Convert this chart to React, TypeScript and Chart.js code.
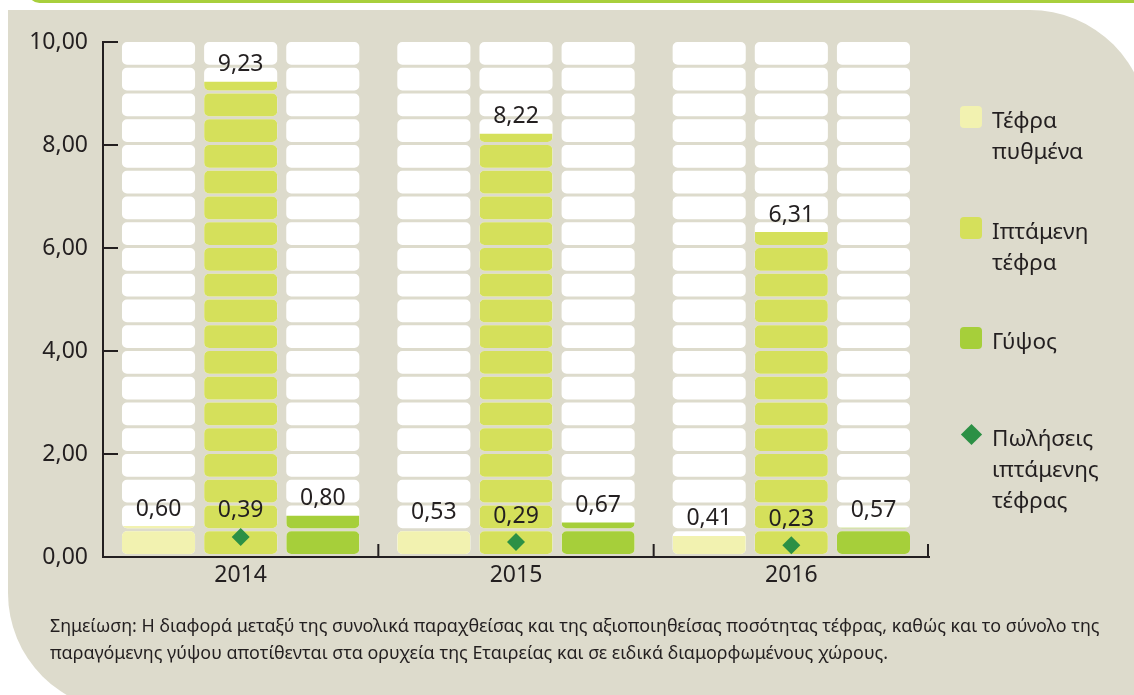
import React, { useEffect, useRef } from 'react';
import { Chart, registerables } from 'chart.js';

Chart.register(...registerables);

// ---------- data ----------
const categories = ['2014', '2015', '2016'];
const bottomAsh = [0.6, 0.53, 0.41];
const flyAsh = [9.23, 8.22, 6.31];
const gypsum = [0.8, 0.67, 0.57];
const flyAshSales = [0.39, 0.29, 0.23];
const seriesNames = ['Τέφρα πυθμένα', 'Ιπτάμενη τέφρα', 'Γύψος', 'Πωλήσεις ιπτάμενης τέφρας'];
const yMin = 0;
const yMax = 10;
const yStep = 2;
const segmentStep = 0.5;
const noteLines = [
  'Σημείωση: Η διαφορά μεταξύ της συνολικά παραχθείσας και της αξιοποιηθείσας ποσότητας τέφρας, καθώς και το σύνολο της',
  'παραγόμενης γύψου αποτίθενται στα ορυχεία της Εταιρείας και σε ειδικά διαμορφωμένους χώρους.',
];

// ---------- styles ----------
const FONT = '"Noto Sans", "DejaVu Sans", sans-serif';
const TEXT = '#231f20';
const PANEL = '#dddbcc';
const C_BOTTOM = '#f2f2b0';
const C_FLY = '#d5e05b';
const C_GYPSUM = '#a6cf3a';
const C_SALES = '#2c9045';
const C_STRIP = '#a8cf3c';
const GAP = 3;
const RADIUS = 5;
const VAL_FONT = 23;

const fmt = (v: number) => v.toFixed(2).replace('.', ',');

function addRoundRect(ctx: CanvasRenderingContext2D, x: number, y: number, w: number, h: number, r: number) {
  const rr = Math.min(r, w / 2, h / 2);
  ctx.moveTo(x + rr, y);
  ctx.lineTo(x + w - rr, y);
  ctx.arcTo(x + w, y, x + w, y + rr, rr);
  ctx.lineTo(x + w, y + h - rr);
  ctx.arcTo(x + w, y + h, x + w - rr, y + h, rr);
  ctx.lineTo(x + rr, y + h);
  ctx.arcTo(x, y + h, x, y + h - rr, rr);
  ctx.lineTo(x, y + rr);
  ctx.arcTo(x, y, x + rr, y, rr);
  ctx.closePath();
}

function addPills(ctx: CanvasRenderingContext2D, el: any, y: any) {
  const { x, width } = el.getProps(['x', 'width'], true);
  const n = Math.round((yMax - yMin) / segmentStep);
  for (let k = 0; k < n; k++) {
    const top = y.getPixelForValue(yMin + segmentStep * (k + 1));
    const bottom = y.getPixelForValue(yMin + segmentStep * k) - GAP;
    addRoundRect(ctx, x - width / 2, top, width, bottom - top, RADIUS);
  }
}

const segmentPlugin = {
  id: 'segments',
  beforeDatasetsDraw(chart: any) {
    const ctx = chart.ctx;
    const y = chart.scales.y;
    ctx.save();
    ctx.fillStyle = '#ffffff';
    chart.data.datasets.forEach((_: any, i: number) => {
      const meta = chart.getDatasetMeta(i);
      if (meta.type !== 'bar') return;
      meta.data.forEach((el: any) => {
        ctx.beginPath();
        addPills(ctx, el, y);
        ctx.fill();
      });
    });
    ctx.restore();
  },
  beforeDatasetDraw(chart: any, args: any) {
    if (args.meta.type !== 'bar') return;
    const ctx = chart.ctx;
    ctx.save();
    ctx.beginPath();
    args.meta.data.forEach((el: any) => addPills(ctx, el, chart.scales.y));
    ctx.clip();
  },
  afterDatasetDraw(chart: any, args: any) {
    if (args.meta.type !== 'bar') return;
    chart.ctx.restore();
  },
};

const axisPlugin = {
  id: 'axisMarks',
  afterDraw(chart: any) {
    const { ctx, chartArea, scales } = chart;
    const x = scales.x;
    const y = scales.y;
    ctx.save();
    ctx.strokeStyle = TEXT;
    ctx.lineWidth = 2;
    ctx.beginPath();
    y.ticks.forEach((t: any) => {
      const py = Math.round(y.getPixelForValue(t.value));
      ctx.moveTo(chartArea.left, py);
      ctx.lineTo(chartArea.left + 15, py);
    });
    for (let i = 1; i <= categories.length; i++) {
      const px = i < categories.length
        ? (x.getPixelForValue(i - 1) + x.getPixelForValue(i)) / 2
        : chartArea.right - 1;
      ctx.moveTo(px, chartArea.bottom);
      ctx.lineTo(px, chartArea.bottom - 13);
    }
    ctx.stroke();
    ctx.restore();
  },
};

const labelPlugin = {
  id: 'valueLabels',
  afterDatasetsDraw(chart: any) {
    const ctx = chart.ctx;
    ctx.save();
    ctx.font = `${VAL_FONT}px ${FONT}`;
    ctx.fillStyle = TEXT;
    ctx.textAlign = 'center';
    ctx.textBaseline = 'middle';
    chart.data.datasets.forEach((ds: any, i: number) => {
      const meta = chart.getDatasetMeta(i);
      const off = meta.type === 'bar' ? 17 : 26;
      meta.data.forEach((el: any, j: number) => {
        const { x, y } = el.getProps(['x', 'y'], true);
        ctx.fillText(fmt(ds.data[j]), x, y - off);
      });
    });
    ctx.restore();
  },
};

function ChartCanvas() {
  const ref = useRef<HTMLCanvasElement>(null);
  useEffect(() => {
    if (!ref.current) return;
    Chart.defaults.font.family = FONT;
    const chart = new Chart(ref.current, {
      type: 'bar',
      data: {
        labels: categories,
        datasets: [
          {
            type: 'line',
            label: seriesNames[3],
            data: flyAshSales,
            showLine: false,
            pointStyle: 'rectRot',
            pointRadius: 9,
            pointBorderWidth: 0,
            pointBackgroundColor: C_SALES,
            pointBorderColor: C_SALES,
            order: 0,
          } as any,
          { label: seriesNames[0], data: bottomAsh, backgroundColor: C_BOTTOM, order: 1 },
          { label: seriesNames[1], data: flyAsh, backgroundColor: C_FLY, order: 1 },
          { label: seriesNames[2], data: gypsum, backgroundColor: C_GYPSUM, order: 1 },
        ],
      },
      options: {
        responsive: false,
        animation: false,
        devicePixelRatio: 1,
        layout: { padding: { left: 0, top: 42, right: 205, bottom: 0 } },
        datasets: {
          bar: { barPercentage: 0.89, categoryPercentage: 0.895, borderWidth: 0 },
        },
        plugins: {
          legend: { display: false },
          tooltip: { enabled: false },
        },
        scales: {
          x: {
            grid: { display: false, drawTicks: false },
            border: { display: true, color: TEXT, width: 2 },
            ticks: { color: TEXT, font: { size: VAL_FONT }, padding: 5 },
            afterFit: (s: any) => { s.height = 138; },
          },
          y: {
            min: yMin,
            max: yMax,
            grid: { display: false, drawTicks: false },
            border: { display: true, color: TEXT, width: 2 },
            ticks: {
              stepSize: yStep,
              color: TEXT,
              font: { size: VAL_FONT },
              padding: 15,
              callback: (v: any) => fmt(Number(v)),
            },
            afterFit: (s: any) => { s.width = 103; },
          },
        },
      },
      plugins: [segmentPlugin, axisPlugin, labelPlugin],
    });
    return () => chart.destroy();
  }, []);
  return (
    <canvas
      ref={ref}
      width={1134}
      height={695}
      style={{ position: 'absolute', left: 0, top: 0, width: 1134, height: 695 }}
    />
  );
}

const legendColors = [C_BOTTOM, C_FLY, C_GYPSUM, C_SALES];
const legendCenters = [119, 230, 340, 437];
const LEG_LH = 31;

export default function App() {
  return (
    <div
      style={{
        position: 'fixed', left: 0, top: 0, width: 1134, height: 695,
        overflow: 'hidden', background: '#ffffff', fontFamily: FONT, color: TEXT,
      }}
    >
      <div
        style={{
          position: 'absolute', left: 28, top: -20, width: 1200, height: 23,
          background: C_STRIP, borderRadius: 14,
        }}
      />
      <div
        style={{
          position: 'absolute', left: 8, top: 10, width: 1140, height: 701,
          background: PANEL, borderTopRightRadius: 118, borderBottomLeftRadius: 118,
        }}
      />
      <ChartCanvas />
      {seriesNames.map((name, i) => (
        <div key={name}>
          {i < 3 ? (
            <div
              style={{
                position: 'absolute', left: 960, top: legendCenters[i] - 13, width: 22, height: 22,
                borderRadius: 4, background: legendColors[i],
              }}
            />
          ) : (
            <div
              style={{
                position: 'absolute', left: 964, top: legendCenters[i] - 10, width: 15, height: 15,
                background: legendColors[i], transform: 'rotate(45deg)',
              }}
            />
          )}
          <div
            style={{
              position: 'absolute', left: 992, top: legendCenters[i] - LEG_LH / 2,
              fontSize: 22.5, lineHeight: `${LEG_LH}px`, whiteSpace: 'nowrap',
            }}
          >
            {name.split(' ').map((w) => (
              <div key={w}>{w}</div>
            ))}
          </div>
        </div>
      ))}
      <div
        style={{
          position: 'absolute', left: 50, top: 612, fontSize: 17.9, lineHeight: '27px',
          whiteSpace: 'nowrap',
        }}
      >
        {noteLines.map((l) => (
          <div key={l}>{l}</div>
        ))}
      </div>
    </div>
  );
}
